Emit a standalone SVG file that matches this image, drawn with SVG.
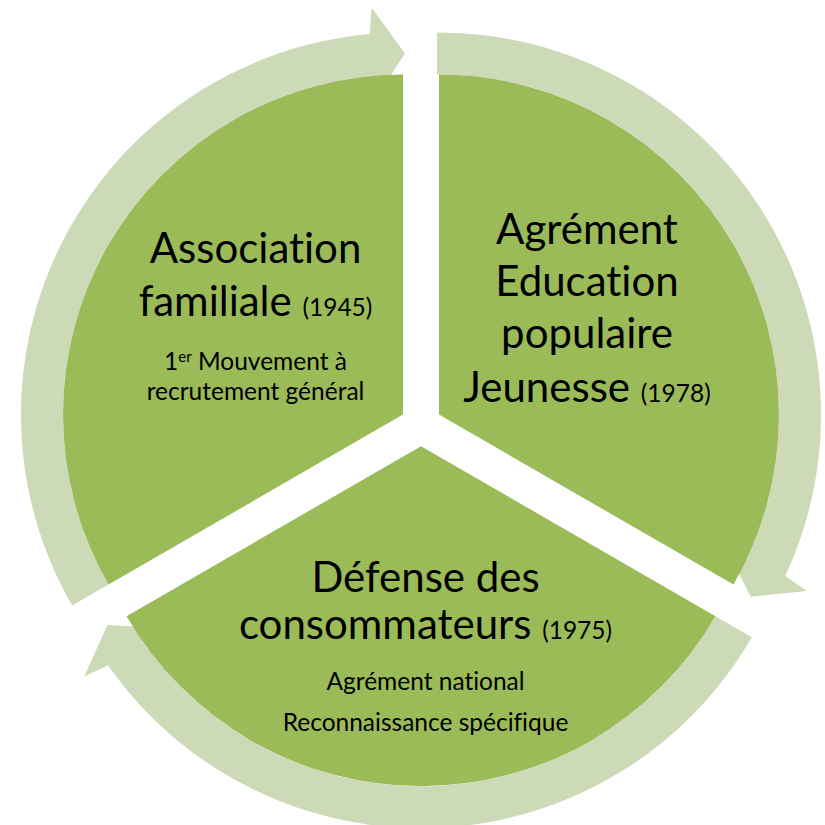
<svg xmlns="http://www.w3.org/2000/svg" width="825" height="825" viewBox="0 0 825 825">
<style>
.wedge{fill:#9BBB59}
.arrow{fill:#CDDAB8}
text{font-family:Lato,"Liberation Sans",sans-serif;fill:#000;text-anchor:middle;font-variant-ligatures:none;font-feature-settings:"liga" 0,"clig" 0;white-space:pre}
.big{font-size:42px}
.small{font-size:24.5px}
.sup{font-size:15px}
</style>
<rect width="825" height="825" fill="#fff"/>
<g id="connectors">
<path class="arrow" d="M72.18,605.6 A382,382 0 0 1 369.71,34.06 L371.70,7.80 L405,53.6 L372.01,104.14 L373.37,75.90 A340,340 0 0 0 108.55,584.6 Z"/>
<path class="arrow" d="M437,32.6 A382,382 0 0 1 785.21,576.04 L806.95,590.89 L750.69,596.74 L723.36,542.99 L747.15,558.29 A340,340 0 0 0 437,74.6 Z"/>
<path class="arrow" d="M751.82,637.2 A382,382 0 0 1 108.08,665.31 L84.26,676.57 L107.42,625.06 L167.68,628.34 L142.49,641.22 A340,340 0 0 0 715.45,616.2 Z"/>
</g>
<g id="node-association">
<path class="wedge" d="M403,414.6 L108.55,584.6 A340,340 0 0 1 403,74.6 Z"/>
<text class="big" x="255.5" y="263">Association</text>
<text x="255.5" y="316"><tspan class="big">familiale </tspan><tspan class="small">(1945)</tspan></text>
<text class="small" x="255.5" y="370">1<tspan class="sup" dy="-8">er</tspan><tspan dy="8"> Mouvement à</tspan></text>
<text class="small" x="255.5" y="400">recrutement général</text>
</g>
<g id="node-jeunesse">
<path class="wedge" d="M439,414.6 L439,74.6 A340,340 0 0 1 733.45,584.6 Z"/>
<text class="big" x="587" y="244">Agrément</text>
<text class="big" x="587" y="296">Education</text>
<text class="big" x="587" y="348">populaire</text>
<text x="587" y="402"><tspan class="big">Jeunesse </tspan><tspan class="small">(1978)</tspan></text>
</g>
<g id="node-consommateurs">
<path class="wedge" d="M421,446.2 L715.45,616.2 A340,340 0 0 1 126.55,616.2 Z"/>
<text class="big" x="425.5" y="592">Défense des</text>
<text x="425.5" y="639"><tspan class="big">consommateurs </tspan><tspan class="small">(1975)</tspan></text>
<text class="small" x="425.5" y="690">Agrément national</text>
<text class="small" x="425.5" y="731">Reconnaissance spécifique</text>
</g>
</svg>
